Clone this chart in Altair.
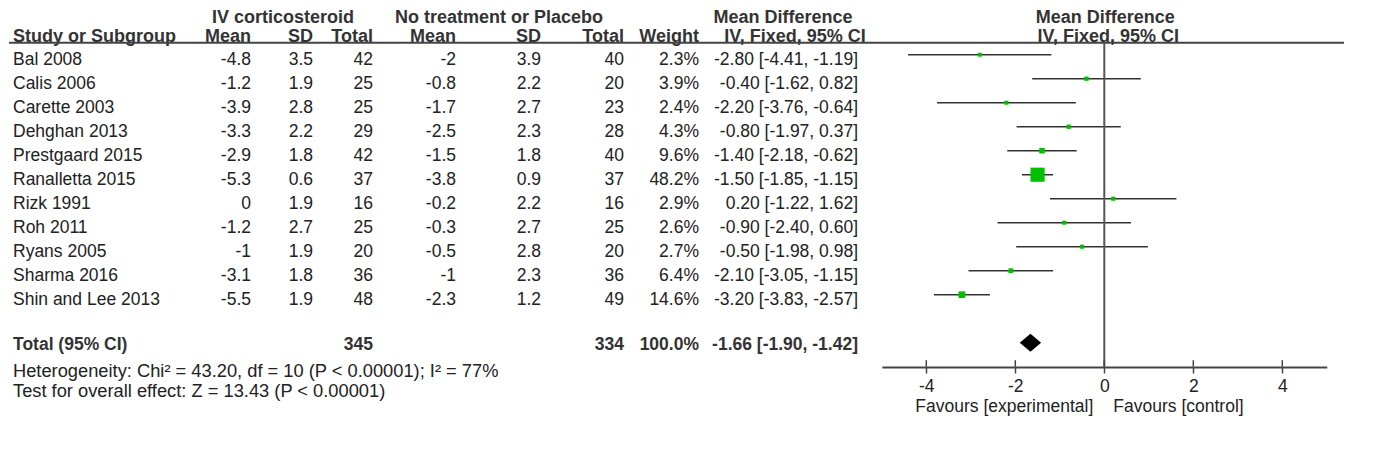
import altair as alt
import pandas as pd

# ---------------- data ----------------
studies = ["Bal 2008", "Calis 2006", "Carette 2003", "Dehghan 2013", "Prestgaard 2015",
           "Ranalletta 2015", "Rizk 1991", "Roh 2011", "Ryans 2005", "Sharma 2016",
           "Shin and Lee 2013"]
exp_mean = [-4.8, -1.2, -3.9, -3.3, -2.9, -5.3, 0, -1.2, -1, -3.1, -5.5]
exp_sd = [3.5, 1.9, 2.8, 2.2, 1.8, 0.6, 1.9, 2.7, 1.9, 1.8, 1.9]
exp_n = [42, 25, 25, 29, 42, 37, 16, 25, 20, 36, 48]
ctl_mean = [-2, -0.8, -1.7, -2.5, -1.5, -3.8, -0.2, -0.3, -0.5, -1, -2.3]
ctl_sd = [3.9, 2.2, 2.7, 2.3, 1.8, 0.9, 2.2, 2.7, 2.8, 2.3, 1.2]
ctl_n = [40, 20, 23, 28, 40, 37, 16, 25, 20, 36, 49]
weight = [2.3, 3.9, 2.4, 4.3, 9.6, 48.2, 2.9, 2.6, 2.7, 6.4, 14.6]
md = [-2.80, -0.40, -2.20, -0.80, -1.40, -1.50, 0.20, -0.90, -0.50, -2.10, -3.20]
ci_lo = [-4.41, -1.62, -3.76, -1.97, -2.18, -1.85, -1.22, -2.40, -1.98, -3.05, -3.83]
ci_hi = [-1.19, 0.82, -0.64, 0.37, -0.62, -1.15, 1.62, 0.60, 0.98, -1.15, -2.57]

total_exp_n = 345
total_ctl_n = 334
total_weight = 100.0
total_md = -1.66
total_lo = -1.90
total_hi = -1.42

axis_ticks = [-4, -2, 0, 2, 4]

heterogeneity = "Heterogeneity: Chi\u00b2 = 43.20, df = 10 (P < 0.00001); I\u00b2 = 77%"
overall = "Test for overall effect: Z = 13.43 (P < 0.00001)"

# ---------------- tables ----------------
df = pd.DataFrame({
    "row": list(range(len(studies))),
    "study": studies,
    "em": [f"{v:g}" for v in exp_mean],
    "esd": [f"{v:g}" for v in exp_sd],
    "en": [str(v) for v in exp_n],
    "cm": [f"{v:g}" for v in ctl_mean],
    "csd": [f"{v:g}" for v in ctl_sd],
    "cn": [str(v) for v in ctl_n],
    "w": weight,
    "wt": [f"{v:.1f}%" for v in weight],
    "md": md,
    "lo": ci_lo,
    "hi": ci_hi,
    "ci": [f"{m:.2f} [{l:.2f}, {h:.2f}]" for m, l, h in zip(md, ci_lo, ci_hi)],
})

TOTAL_ROW = 12
tot = pd.DataFrame({
    "row": [TOTAL_ROW],
    "study": ["Total (95% CI)"],
    "en": [str(total_exp_n)],
    "cn": [str(total_ctl_n)],
    "wt": [f"{total_weight:.1f}%"],
    "ci": [f"{total_md:.2f} [{total_lo:.2f}, {total_hi:.2f}]"],
})

half_h = 0.375
diamond = pd.DataFrame({
    "x": [total_lo, total_md, total_hi],
    "y": [TOTAL_ROW, TOTAL_ROW - half_h, TOTAL_ROW],
    "y2": [TOTAL_ROW, TOTAL_ROW + half_h, TOTAL_ROW],
})

ticks_df = pd.DataFrame({"t": axis_ticks})

# ---------------- styling ----------------
FONT = "Liberation Sans"
FS = 17.5
TXT = "#222222"
HDR = "#333333"
LINE = "#444444"

xs = alt.Scale(domain=[-5, 5], range=[872.8, 1317.8], nice=False, zero=False)
ys = alt.Scale(domain=[-0.5, 13], range=[34.7, 358.7], nice=False, zero=False)

X_AXIS = alt.Axis(
    values=axis_ticks, title=None, grid=False, domainColor=LINE, domainWidth=2,
    tickColor=LINE, tickWidth=1.5, tickSize=6, labelFont=FONT, labelFontSize=FS,
    labelColor=TXT, labelPadding=4, labelFlush=False,
    labelExpr="datum.value < 0 ? '-' + abs(datum.value) : '' + datum.value")

Y = alt.Y("row:Q", scale=ys, axis=None)

layers = []


def col(data, field, x, align="right", bold=False, dy=5.5):
    return alt.Chart(data).mark_text(
        align=align, baseline="middle", dy=dy, font=FONT, fontSize=FS,
        fontWeight="bold" if bold else "normal", color=HDR if bold else TXT
    ).encode(x=alt.value(x), y=Y, text=f"{field}:N")


def label(text, x, y, align="center", bold=True, size=18):
    return alt.Chart(pd.DataFrame({"label": [text]})).mark_text(
        align=align, baseline="middle", font=FONT, fontSize=size,
        fontWeight="bold" if bold else "normal", color=HDR if bold else TXT
    ).encode(x=alt.value(x), y=alt.value(y), text="label:N")


# table body
for field, x, align in [("study", 4, "left"), ("em", 242, "right"), ("esd", 304, "right"),
                        ("en", 364, "right"), ("cm", 447, "right"), ("csd", 532, "right"),
                        ("cn", 615, "right"), ("wt", 690, "right"), ("ci", 849, "right")]:
    layers.append(col(df, field, x, align))

# total row
for field, x, align in [("study", 4, "left"), ("en", 364, "right"), ("cn", 615, "right"),
                        ("wt", 690, "right"), ("ci", 849, "right")]:
    layers.append(col(tot, field, x, align, bold=True, dy=2))

# headers
HY1, HY2 = 10, 28.5
layers += [
    label("IV corticosteroid", 274, HY1),
    label("No treatment or Placebo", 490, HY1),
    label("Mean Difference", 774, HY1),
    label("Study or Subgroup", 4, HY2, align="left"),
    label("Mean", 242, HY2, align="right"),
    label("SD", 304, HY2, align="right"),
    label("Total", 364, HY2, align="right"),
    label("Mean", 447, HY2, align="right"),
    label("SD", 532, HY2, align="right"),
    label("Total", 615, HY2, align="right"),
    label("Weight", 690, HY2, align="right"),
    label("IV, Fixed, 95% CI", 786, HY2),
]

# footer
layers += [
    label(heterogeneity, 4, 364, align="left", bold=False, size=18.3),
    label(overall, 4, 384, align="left", bold=False, size=18.3),
]

# header line
layers.append(
    alt.Chart(pd.DataFrame({"a": [0]})).mark_rule(color=LINE, strokeWidth=2).encode(
        x=alt.value(0), x2=alt.value(1335), y=alt.YDatum(-0.5, scale=ys, axis=None)
    )
)

# CI lines, carrying the x axis
layers.append(
    alt.Chart(df).mark_rule(color="#333333", strokeWidth=1.6).encode(
        x=alt.X("lo:Q", scale=xs, axis=X_AXIS),
        x2="hi:Q",
        y=Y,
    )
)

# zero line
layers.append(
    alt.Chart(pd.DataFrame({"a": [0]})).mark_rule(color="#555555", strokeWidth=2).encode(
        x=alt.XDatum(0, scale=xs, axis=X_AXIS),
        y=alt.YDatum(-0.5, scale=ys, axis=None),
        y2=alt.Y2Datum(13),
    )
)

# upward half of the ticks
layers.append(
    alt.Chart(ticks_df).mark_rule(color=LINE, strokeWidth=1.5).encode(
        x=alt.X("t:Q", scale=xs, axis=X_AXIS),
        y=alt.YDatum(12.73, scale=ys, axis=None),
        y2=alt.Y2Datum(13),
    )
)

# squares
layers.append(
    alt.Chart(df).mark_square(color="#00c000", opacity=1, strokeWidth=0).encode(
        x=alt.X("md:Q", scale=xs, axis=X_AXIS),
        y=Y,
        size=alt.Size("w:Q", scale=alt.Scale(type="pow", exponent=1.5, domain=[0, 48.2],
                                             range=[14, 200]), legend=None),
    )
)

# diamond
layers.append(
    alt.Chart(diamond).mark_area(color="black", opacity=1).encode(
        x=alt.X("x:Q", scale=xs, axis=X_AXIS),
        y=alt.Y("y:Q", scale=ys, axis=None),
        y2="y2:Q",
    )
)

# favours labels
fav = pd.DataFrame({"l": ["Favours [experimental]"], "r": ["Favours [control]"]})
layers.append(
    alt.Chart(fav).mark_text(align="right", baseline="middle", dx=-11, font=FONT,
                             fontSize=FS, color=TXT).encode(
        x=alt.XDatum(0, scale=xs, axis=X_AXIS), y=alt.value(399), text="l:N")
)
layers.append(
    alt.Chart(fav).mark_text(align="left", baseline="middle", dx=9, font=FONT,
                             fontSize=FS, color=TXT).encode(
        x=alt.XDatum(0, scale=xs, axis=X_AXIS), y=alt.value(399), text="r:N")
)

# right panel header
layers.append(
    alt.Chart(pd.DataFrame({"label": ["Mean Difference"]})).mark_text(
        align="center", baseline="middle", dx=1, font=FONT, fontSize=18,
        fontWeight="bold", color=HDR).encode(
        x=alt.XDatum(0, scale=xs, axis=X_AXIS), y=alt.value(HY1), text="label:N")
)
layers.append(
    alt.Chart(pd.DataFrame({"label": ["IV, Fixed, 95% CI"]})).mark_text(
        align="center", baseline="middle", dx=4, font=FONT, fontSize=18,
        fontWeight="bold", color=HDR).encode(
        x=alt.XDatum(0, scale=xs, axis=X_AXIS), y=alt.value(HY2), text="label:N")
)

chart = alt.layer(*layers).properties(
    width=1340, height=359, padding=0, background="white"
).configure_view(stroke=None)

chart.save("out.html", embed_options={"renderer": "svg", "actions": False})
